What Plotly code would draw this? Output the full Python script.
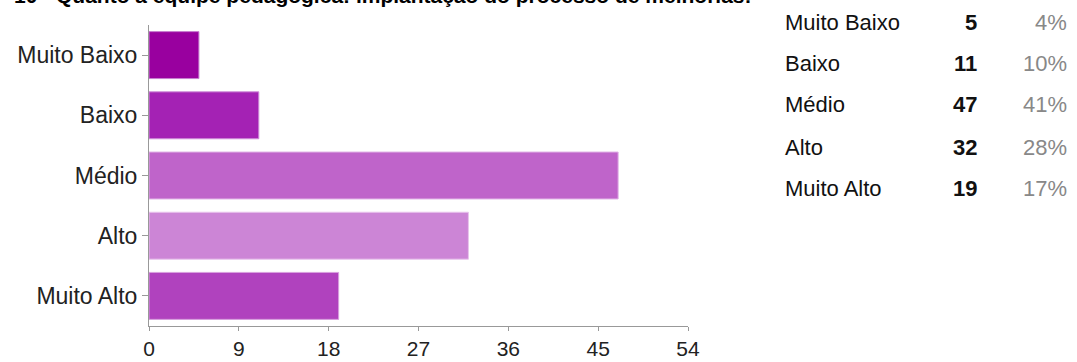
import plotly.graph_objects as go

categories = ["Muito Baixo", "Baixo", "Médio", "Alto", "Muito Alto"]
counts = [5, 11, 47, 32, 19]
percents = ["4%", "10%", "41%", "28%", "17%"]
colors = ["#99009f", "#a422b4", "#bf64ca", "#cc85d6", "#b042be"]
border_colors = ["#c77fd0", "#cf8fd9", "#e0b2e6", "#e8c4ec", "#d8a0df"]
x_ticks = [0, 9, 18, 27, 36, 45, 54]
title_text = "10 - Quanto à equipe pedagógica: implantação do processo de melhorias:"

W, H = 1077, 362
top, bottom = 25, 326
left, right = 149, 688

fig = go.Figure()
fig.add_trace(go.Bar(
    y=categories, x=counts, orientation="h",
    marker=dict(color=colors, line=dict(color=border_colors, width=1)),
    hoverinfo="x+y", showlegend=False,
))

def py(p):
    return (bottom - p) / (bottom - top)

def px(p):
    return (p - left) / (right - left)

annotations = [dict(
    text="<b>" + title_text + "</b>", xref="paper", yref="paper",
    x=px(12), y=py(-5), xanchor="left", yanchor="middle",
    showarrow=False, font=dict(family="Arial, Liberation Sans", size=21, color="#000000"),
)]
row_y = [22, 63.5, 105, 147, 188.5]
for cat, cnt, pct, ry in zip(categories, counts, percents, row_y):
    for txt, xp, anchor, col, bold in [
        (cat, 783, "left", "#111111", False),
        (str(cnt), 979, "right", "#111111", True),
        (pct, 1069, "right", "#888888", False),
    ]:
        annotations.append(dict(
            text=("<b>%s</b>" % txt) if bold else txt,
            xref="paper", yref="paper",
            x=px(xp), y=py(ry),
            xanchor=anchor, yanchor="middle", showarrow=False,
            font=dict(family="Arial, Liberation Sans", size=22, color=col),
        ))

fig.update_layout(
    width=W, height=H,
    margin=dict(l=left, r=W - right, t=top, b=H - bottom, pad=0, autoexpand=False),
    paper_bgcolor="white", plot_bgcolor="white",
    bargap=0.22,
    annotations=annotations,
    xaxis=dict(
        range=[0, 54], tickvals=x_ticks, ticktext=[str(v) for v in x_ticks],
        showgrid=False, zeroline=False, showline=True, linecolor="#999999", linewidth=1,
        ticks="outside", ticklen=4, tickcolor="#999999", automargin=False,
        tickfont=dict(family="Arial, Liberation Sans", size=21, color="#222222"),
    ),
    yaxis=dict(
        autorange="reversed", showgrid=False, zeroline=False,
        showline=True, linecolor="#999999", linewidth=1,
        ticks="outside", ticklen=6, tickcolor="#999999", automargin=False,
        tickfont=dict(family="Arial, Liberation Sans", size=23, color="#222222"),
    ),
)

fig.write_html(
    "out.html",
    config={"displayModeBar": False},
    post_script="document.body.style.margin='0';document.body.style.padding='0';",
)
